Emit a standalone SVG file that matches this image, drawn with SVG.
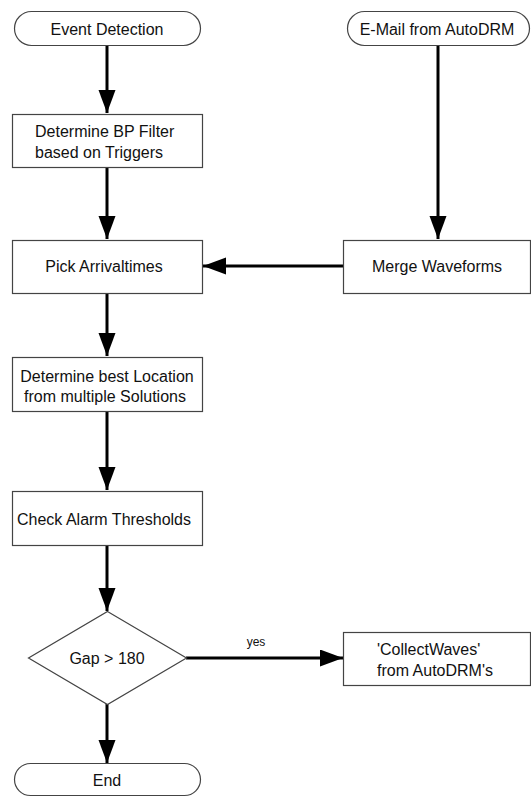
<svg xmlns="http://www.w3.org/2000/svg" width="531" height="797" viewBox="0 0 531 797">
<defs>
<style>
.box{fill:#fff;stroke:#444;stroke-width:1.2}
.t{font-family:"Liberation Sans",Arial,sans-serif;font-size:16px;fill:#111}
.c{text-anchor:middle}
.edge{stroke:#000;stroke-width:3;fill:none}
.lbl{font-family:"Liberation Sans",Arial,sans-serif;font-size:12px;fill:#111;text-anchor:middle}
</style>
<marker id="ah" markerUnits="userSpaceOnUse" markerWidth="24" markerHeight="18" refX="23" refY="8.5" orient="auto">
<path d="M0,0 L23,8.5 L0,17 Z" fill="#000"/>
</marker>
</defs>
<rect width="531" height="797" fill="#fff"/>
<g id="connectors">
<line class="edge" x1="107" y1="45" x2="107" y2="113" marker-end="url(#ah)"/>
<line class="edge" x1="438" y1="45" x2="438" y2="239" marker-end="url(#ah)"/>
<line class="edge" x1="107" y1="167" x2="107" y2="239" marker-end="url(#ah)"/>
<line class="edge" x1="343" y1="266" x2="203" y2="266" marker-end="url(#ah)"/>
<line class="edge" x1="107" y1="293" x2="107" y2="356" marker-end="url(#ah)"/>
<line class="edge" x1="107" y1="412" x2="107" y2="490" marker-end="url(#ah)"/>
<line class="edge" x1="107" y1="545" x2="107" y2="611" marker-end="url(#ah)"/>
<line class="edge" x1="186" y1="658" x2="343" y2="658" marker-end="url(#ah)"/>
<line class="edge" x1="107" y1="704" x2="107" y2="763" marker-end="url(#ah)"/>
<text class="lbl" x="256" y="646">yes</text>
</g>
<g id="event-detection">
<rect class="box" x="14.5" y="11.5" width="186" height="34" rx="17" ry="17"/>
<text class="t c" x="107" y="35">Event Detection</text>
</g>
<g id="email-autodrm">
<rect class="box" x="347.5" y="11.5" width="182" height="34" rx="17" ry="17"/>
<text class="t c" x="437" y="35">E-Mail from AutoDRM</text>
</g>
<g id="bp-filter">
<rect class="box" x="12.5" y="114.5" width="190" height="53"/>
<text class="t" x="35" y="137">Determine BP Filter</text>
<text class="t" x="35" y="158">based on Triggers</text>
</g>
<g id="pick-arrivaltimes">
<rect class="box" x="12.5" y="240.5" width="190" height="53"/>
<text class="t c" x="104" y="272">Pick Arrivaltimes</text>
</g>
<g id="merge-waveforms">
<rect class="box" x="343.5" y="240.5" width="187" height="53"/>
<text class="t c" x="437" y="272">Merge Waveforms</text>
</g>
<g id="best-location">
<rect class="box" x="12.5" y="357.5" width="190" height="54"/>
<text class="t c" x="107" y="382">Determine best Location</text>
<text class="t c" x="105" y="402">from multiple Solutions</text>
</g>
<g id="alarm-thresholds">
<rect class="box" x="12.5" y="491.5" width="190" height="54"/>
<text class="t c" x="104" y="525">Check Alarm Thresholds</text>
</g>
<g id="gap-decision">
<polygon class="box" points="107.5,611.5 186.5,658 107.5,704.5 28.5,658"/>
<text class="t c" x="107" y="664">Gap &gt; 180</text>
</g>
<g id="collect-waves">
<rect class="box" x="343.5" y="632.5" width="187" height="53"/>
<text class="t" x="377" y="655">'CollectWaves'</text>
<text class="t" x="377" y="676">from AutoDRM's</text>
</g>
<g id="end">
<rect class="box" x="14.5" y="763.5" width="186" height="32" rx="16" ry="16"/>
<text class="t c" x="107" y="786">End</text>
</g>
</svg>
